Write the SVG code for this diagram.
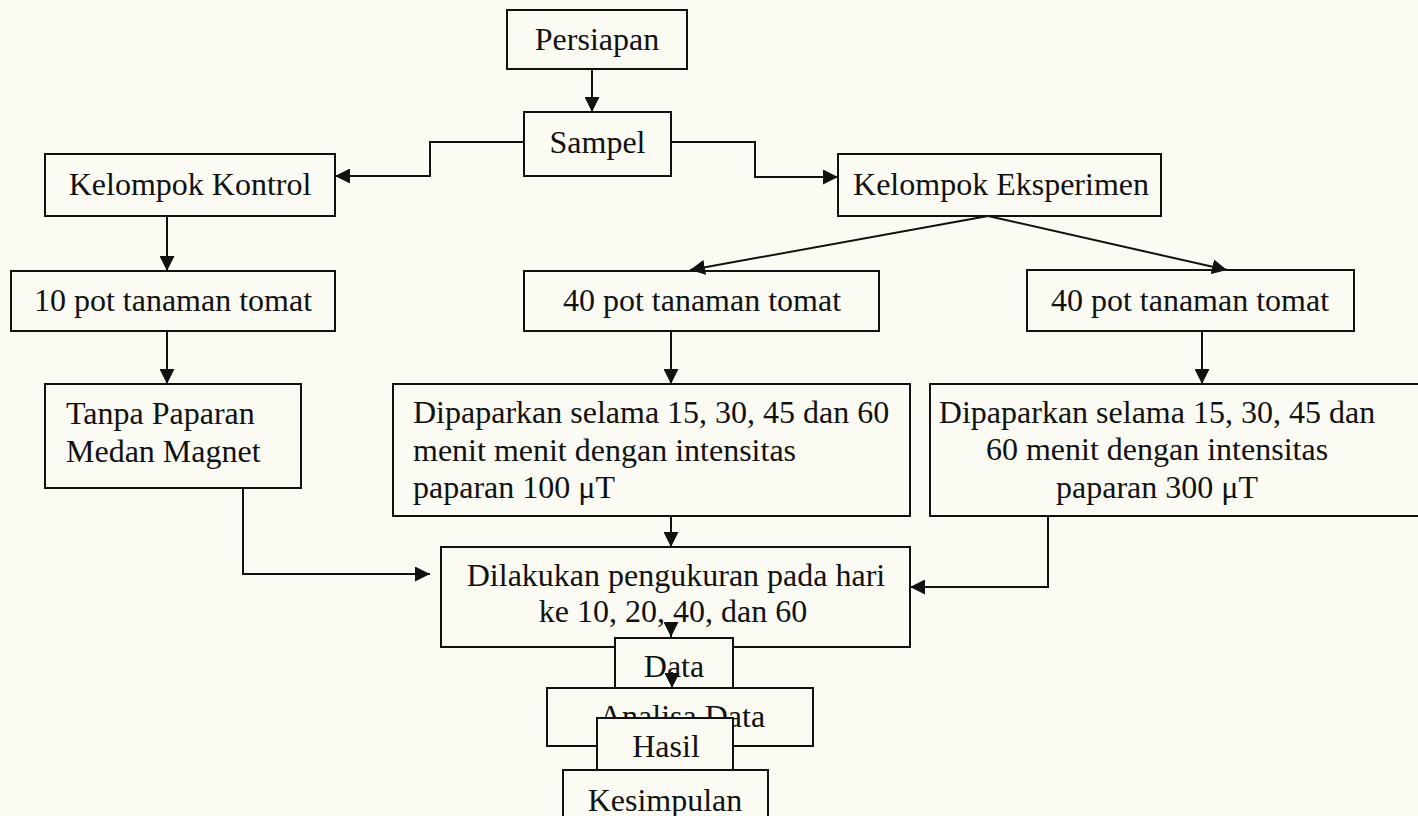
<svg xmlns="http://www.w3.org/2000/svg" width="1418" height="816" viewBox="0 0 1418 816">
<style>
.box{fill:#fbfbf4;stroke:#111;stroke-width:2}
.t{font-family:"Liberation Serif","Times New Roman",serif;font-size:32px;fill:#111}
.c{text-anchor:middle}
.conn path{fill:none;stroke:#111;stroke-width:2;marker-end:url(#ah)}
</style>
<defs>
<marker id="ah" markerUnits="userSpaceOnUse" markerWidth="15" markerHeight="15" viewBox="0 0 15 15" refX="15" refY="7.5" orient="auto">
<path d="M0,0 L15,7.5 L0,15 z" fill="#111"/>
</marker>
</defs>
<rect x="0" y="0" width="1418" height="816" fill="#fbfbf4"/>

<g id="persiapan"><rect class="box" x="507" y="10" width="180" height="59"/><text class="t c" x="597" y="50">Persiapan</text></g>
<g id="sampel"><rect class="box" x="524" y="112" width="147" height="64"/><text class="t c" x="597.5" y="153">Sampel</text></g>
<g id="kontrol"><rect class="box" x="45" y="154" width="290" height="62"/><text class="t c" x="190" y="195">Kelompok Kontrol</text></g>
<g id="eksperimen"><rect class="box" x="838" y="154" width="323" height="62"/><text class="t c" x="1001" y="195">Kelompok Eksperimen</text></g>
<g id="pot10"><rect class="box" x="11" y="271" width="324" height="60"/><text class="t c" x="173" y="311">10 pot tanaman tomat</text></g>
<g id="pot40a"><rect class="box" x="524" y="271" width="355" height="60"/><text class="t c" x="702" y="311">40 pot tanaman tomat</text></g>
<g id="pot40b"><rect class="box" x="1027" y="270" width="327" height="61"/><text class="t c" x="1190" y="311">40 pot tanaman tomat</text></g>
<g id="tanpa"><rect class="box" x="45" y="384" width="256" height="104"/><text class="t" x="66" y="424">Tanpa Paparan</text><text class="t" x="66" y="462">Medan Magnet</text></g>
<g id="dip100"><rect class="box" x="393" y="384" width="517" height="132"/><text class="t" x="413" y="423">Dipaparkan selama 15, 30, 45 dan 60</text><text class="t" x="413" y="461">menit menit dengan intensitas</text><text class="t" x="413" y="498">paparan 100 μT</text></g>
<g id="dip300"><rect class="box" x="930" y="384" width="500" height="132"/><text class="t c" x="1157" y="423">Dipaparkan selama 15, 30, 45 dan</text><text class="t c" x="1157" y="460">60 menit dengan intensitas</text><text class="t c" x="1157" y="498">paparan 300 μT</text></g>
<g id="dilakukan"><rect class="box" x="441" y="547" width="469" height="100"/><text class="t c" x="676" y="586">Dilakukan pengukuran pada hari</text><text class="t c" x="673" y="622">ke 10, 20, 40, dan 60</text></g>
<g id="data"><rect class="box" x="615" y="638" width="118" height="60"/><text class="t c" x="674" y="677">Data</text></g>
<g id="analisa"><rect class="box" x="547" y="688" width="266" height="58"/><text class="t c" x="682" y="727">Analisa Data</text></g>
<g id="hasil"><rect class="box" x="597" y="718" width="136" height="60"/><text class="t c" x="666" y="757">Hasil</text></g>
<g id="kesimpulan"><rect class="box" x="563" y="770" width="205" height="60"/><text class="t c" x="665" y="811">Kesimpulan</text></g>

<g id="connectors" class="conn">
<path d="M592,69 V112"/>
<path d="M524,142 H430 V176 H335"/>
<path d="M671,142 H755 V177 H838"/>
<path d="M167,216 V271"/>
<path d="M167,331 V384"/>
<path d="M988,216 L690,270"/>
<path d="M988,216 L1227,270"/>
<path d="M671,331 V384"/>
<path d="M1202,331 V384"/>
<path d="M671,516 V547"/>
<path d="M243,488 V574 H430"/>
<path d="M1048,516 V587 H910"/>
<path d="M671,622 V637"/>
<path d="M672,672 V688"/>
</g>
</svg>
